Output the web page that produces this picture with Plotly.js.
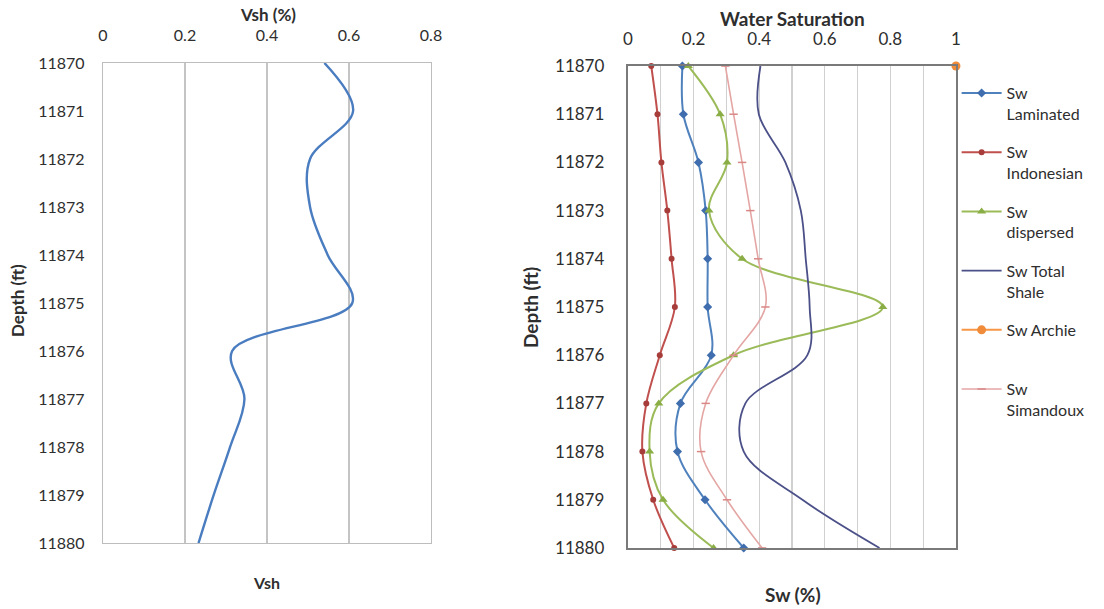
<!DOCTYPE html>
<html>
<head>
<meta charset="utf-8">
<script src="https://cdn.plot.ly/plotly-3.0.1.min.js"></script>
<style>html,body{margin:0;padding:0;background:#fff;}#chart{width:1104px;height:609px;}</style>
</head>
<body>
<div id="chart"></div>
<script>
// Depths (ft)
var depth = [11870, 11871, 11872, 11873, 11874, 11875, 11876, 11877, 11878, 11879, 11880];
var depthTicks = [11870, 11871, 11872, 11873, 11874, 11875, 11876, 11877, 11878, 11879, 11880];
var depthTickText = ["11870", "11871", "11872", "11873", "11874", "11875", "11876", "11877", "11878", "11879", "11880"];
var vshTicks = [0, 0.2, 0.4, 0.6, 0.8];
var vshTickText = ["0", "0.2", "0.4", "0.6", "0.8"];
var swTicks = [0, 0.2, 0.4, 0.6, 0.8, 1];
var swTickText = ["0", "0.2", "0.4", "0.6", "0.8", "1"];

// Left panel: shale volume
var vsh = [0.54, 0.61, 0.505, 0.505, 0.548, 0.608, 0.315, 0.345, 0.31, 0.27, 0.233];

// Right panel: water saturation models
var swLaminated  = [0.166, 0.169, 0.215, 0.237, 0.243, 0.243, 0.254, 0.160, 0.151, 0.235, 0.353];
var swIndonesian = [0.071, 0.090, 0.102, 0.120, 0.133, 0.143, 0.097, 0.056, 0.044, 0.077, 0.141];
var swDispersed  = [0.184, 0.281, 0.302, 0.247, 0.348, 0.777, 0.322, 0.094, 0.066, 0.107, 0.261];
var swTotalShale = [0.404, 0.399, 0.480, 0.527, 0.542, 0.554, 0.547, 0.358, 0.353, 0.532, 0.767];
var swArchieDepth = [11870];
var swArchie     = [1.0];
var swSimandoux  = [0.297, 0.322, 0.348, 0.373, 0.397, 0.419, 0.322, 0.237, 0.223, 0.302, 0.409];

var FONT = "Lato, 'Open Sans', sans-serif";
var TXT = "#2E2E2E";

var traces = [
  {x: vsh, y: depth, xaxis: "x", yaxis: "y", type: "scatter", mode: "lines",
   line: {color: "#4A7CC0", width: 2.4, shape: "spline", smoothing: 1},
   showlegend: false, name: "Vsh", cliponaxis: false},
  {x: swLaminated, y: depth, xaxis: "x2", yaxis: "y2", type: "scatter", mode: "lines+markers",
   name: "Sw<br>Laminated", legendgroup: "a",
   line: {color: "#4F81BD", width: 2, shape: "spline", smoothing: 1},
   marker: {symbol: "diamond", size: 7, color: "#3F6DAE"}, cliponaxis: false},
  {x: swIndonesian, y: depth, xaxis: "x2", yaxis: "y2", type: "scatter", mode: "lines+markers",
   name: "Sw<br>Indonesian", legendgroup: "b",
   line: {color: "#C0504D", width: 2, shape: "spline", smoothing: 1},
   marker: {symbol: "circle", size: 6, color: "#A63D3A"}, cliponaxis: false},
  {x: swDispersed, y: depth, xaxis: "x2", yaxis: "y2", type: "scatter", mode: "lines+markers",
   name: "Sw<br>dispersed", legendgroup: "c",
   line: {color: "#9BBB59", width: 2, shape: "spline", smoothing: 1},
   marker: {symbol: "triangle-up", size: 8, color: "#8AAE45"}, cliponaxis: false},
  {x: swTotalShale, y: depth, xaxis: "x2", yaxis: "y2", type: "scatter", mode: "lines",
   name: "Sw Total<br>Shale", legendgroup: "d",
   line: {color: "#4B5088", width: 1.8, shape: "spline", smoothing: 1}, cliponaxis: false},
  {x: swArchie, y: swArchieDepth, xaxis: "x2", yaxis: "y2", type: "scatter", mode: "lines+markers",
   name: "Sw Archie<br>&nbsp;", legendgroup: "e",
   line: {color: "#F79646", width: 2},
   marker: {symbol: "circle", size: 9, color: "#F08B3A"}, cliponaxis: false},
  {x: swSimandoux, y: depth, xaxis: "x2", yaxis: "y2", type: "scatter", mode: "lines+markers",
   name: "Sw<br>Simandoux", legendgroup: "f",
   line: {color: "#E4A6A4", width: 1.6, shape: "spline", smoothing: 1},
   marker: {symbol: "line-ew", size: 6, color: "#D98886", line: {color: "#D98886", width: 1.5}}, cliponaxis: false}
];

var tickFont = {family: FONT, size: 16, color: TXT};
var tickFont2 = {family: FONT, size: 17, color: TXT};

var layout = {
  width: 1104, height: 609,
  margin: {l: 0, r: 0, t: 0, b: 0},
  paper_bgcolor: "#ffffff", plot_bgcolor: "#ffffff",
  font: {family: FONT, color: TXT},
  showlegend: true,
  legend: {x: 0.8665, xanchor: "left", y: 0.875, yanchor: "top",
           font: {family: FONT, size: 16, color: TXT},
           valign: "top", tracegroupgap: 14.6, itemwidth: 40,
           bgcolor: "rgba(0,0,0,0)"},
  xaxis: {domain: [0.0933, 0.3904], range: [0, 0.8], side: "top", anchor: "y",
          tickvals: vshTicks, ticktext: vshTickText, tickfont: tickFont,
          showgrid: true, gridcolor: "#C4C4C4", gridwidth: 1.2, zeroline: false,
          showline: true, mirror: true, linecolor: "#BDBDBD", linewidth: 1.2,
          ticks: "outside", ticklen: 14, tickcolor: "rgba(0,0,0,0)", fixedrange: true},
  yaxis: {domain: [0.1084, 0.8966], range: [11880, 11870], anchor: "x",
          tickvals: depthTicks, ticktext: depthTickText, tickfont: tickFont, showgrid: false, zeroline: false,
          showline: true, mirror: true, linecolor: "#BDBDBD", linewidth: 1.2,
          ticks: "outside", ticklen: 14, tickcolor: "rgba(0,0,0,0)", fixedrange: true},
  xaxis2: {domain: [0.5688, 0.8659], range: [0, 1], side: "top", anchor: "y2",
           tickvals: swTicks, ticktext: swTickText, tickfont: tickFont2,
           showgrid: true, gridcolor: "#D0D0D0", gridwidth: 1.2, zeroline: false,
           minor: {dtick: 0.1, showgrid: true, gridcolor: "#D0D0D0", gridwidth: 1.2},
           showline: true, mirror: true, linecolor: "#7A7A7A", linewidth: 2.2,
           ticks: "outside", ticklen: 12, tickcolor: "rgba(0,0,0,0)", fixedrange: true},
  yaxis2: {domain: [0.1002, 0.8916], range: [11880, 11870], anchor: "x2",
           tickvals: depthTicks, ticktext: depthTickText, tickfont: tickFont2, showgrid: false, zeroline: false,
           showline: true, mirror: true, linecolor: "#7A7A7A", linewidth: 2.2,
           ticks: "outside", ticklen: 18, tickcolor: "rgba(0,0,0,0)", fixedrange: true},
  annotations: [
    {text: "Vsh (%)", xref: "paper", yref: "paper", x: 0.2428, y: 0.9754, showarrow: false,
     xanchor: "center", yanchor: "middle", font: {family: FONT, size: 17, weight: "bold", color: TXT}},
    {text: "Water Saturation", xref: "paper", yref: "paper", x: 0.7174, y: 0.9704, showarrow: false,
     xanchor: "center", yanchor: "middle", font: {family: FONT, size: 19, weight: "bold", color: TXT}},
    {text: "Vsh", xref: "paper", yref: "paper", x: 0.2418, y: 0.0427, showarrow: false,
     xanchor: "center", yanchor: "middle", font: {family: FONT, size: 16, weight: "bold", color: TXT}},
    {text: "Sw (%)", xref: "paper", yref: "paper", x: 0.7183, y: 0.0246, showarrow: false,
     xanchor: "center", yanchor: "middle", font: {family: FONT, size: 19, weight: "bold", color: TXT}},
    {text: "Depth (ft)", xref: "paper", yref: "paper", x: 0.0163, y: 0.5074, showarrow: false,
     textangle: -90, xanchor: "center", yanchor: "middle", font: {family: FONT, size: 17, weight: "bold", color: TXT}},
    {text: "Depth (ft)", xref: "paper", yref: "paper", x: 0.481, y: 0.4943, showarrow: false,
     textangle: -90, xanchor: "center", yanchor: "middle", font: {family: FONT, size: 19, weight: "bold", color: TXT}}
  ]
};

Plotly.newPlot("chart", traces, layout, {displayModeBar: false, staticPlot: true});
</script>
</body>
</html>
